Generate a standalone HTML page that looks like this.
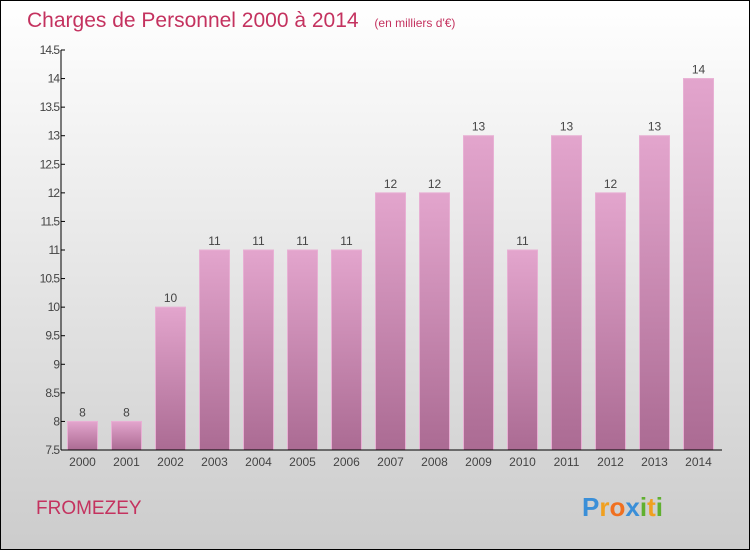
<!DOCTYPE html>
<html><head><meta charset="utf-8"><style>
body{margin:0;width:750px;height:550px;overflow:hidden}
svg{display:block;font-family:"Liberation Sans",sans-serif}
</style></head><body>
<svg width="750" height="550">
<defs>
<linearGradient id="bg" x1="0" y1="0" x2="0" y2="1"><stop offset="0" stop-color="#ffffff"/><stop offset="1" stop-color="#cccccc"/></linearGradient>
<linearGradient id="bar" x1="0" y1="0" x2="0" y2="1"><stop offset="0" stop-color="#e3a5cd"/><stop offset="1" stop-color="#ab6b93"/></linearGradient>
</defs>
<rect x="0.5" y="0.5" width="749" height="549" fill="url(#bg)" stroke="#000"/>
<text x="27" y="27" font-size="21" fill="#c4325f">Charges de Personnel 2000 à 2014 <tspan font-size="12" dx="10">(en milliers d'€)</tspan></text>
<g id="plot"></g>
<text x="36" y="514" font-size="19" fill="#c4325f">FROMEZEY</text>
<text x="582" y="516" font-size="26" font-weight="bold"><tspan fill="#3a8fd8">P</tspan><tspan fill="#f0a020">r</tspan><tspan fill="#f07020">o</tspan><tspan fill="#3a8fd8">x</tspan><tspan fill="#60b030">i</tspan><tspan fill="#f0a020">t</tspan><tspan fill="#60b030">i</tspan></text>
</svg>
<script>
const years=["2000","2001","2002","2003","2004","2005","2006","2007","2008","2009","2010","2011","2012","2013","2014"];
const values=[8,8,10,11,11,11,11,12,12,13,11,13,12,13,14];
const yTicks=[7.5,8,8.5,9,9.5,10,10.5,11,11.5,12,12.5,13,13.5,14,14.5];
const NS="http://www.w3.org/2000/svg";
const g=document.getElementById('plot');
const y=v=>450-(v-7.5)*400/7;
const x=i=>82.5+i*44;
function mk(t,a){const e=document.createElementNS(NS,t);for(const k in a)e.setAttribute(k,a[k]);g.appendChild(e);return e;}
values.forEach((v,i)=>{
 const r=mk('rect',{x:x(i)-15,y:y(v),width:30,height:450-y(v),fill:'url(#bar)',stroke:'#e8b0d4','stroke-width':1});
 
 
 const t=mk('text',{x:x(i),y:y(v)-5,'font-size':12,fill:'#444','text-anchor':'middle'});t.textContent=v;
 
 
 const l=mk('text',{x:x(i),y:466,'font-size':12,fill:'#444','text-anchor':'middle'});l.textContent=years[i];
 
 
});
yTicks.forEach(v=>{
 const tk=mk('line',{x1:61,x2:65,y1:y(v),y2:y(v),stroke:'#000'});
 
 
 const t=mk('text',{x:59,y:y(v)+4,'font-size':12,fill:'#444','text-anchor':'end','letter-spacing':'-1'});t.textContent=v;
 
 
});
const ya=mk('line',{x1:61,x2:61,y1:50,y2:450,stroke:'#000'});


const xa=mk('line',{x1:61,x2:722,y1:450,y2:450,stroke:'#000'});


</script>
</body></html>
